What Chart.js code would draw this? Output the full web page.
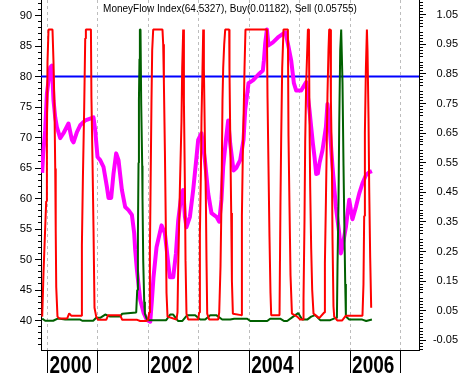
<!DOCTYPE html>
<html>
<head>
<meta charset="utf-8">
<script src="https://cdn.jsdelivr.net/npm/chart.js@4.4.0/dist/chart.umd.min.js"></script>
<style>
  body { margin: 0; background: #fff; }
  canvas { display: block; }
</style>
</head>
<body>
<canvas id="mfiChart" width="460" height="373"></canvas>
<script>
// Money flow index with buy / sell signal lines (2000 - 2006)

// x axis range (decimal years) and tick values
const xMin = 1999.871;
const xMax = 2007.367;
const yearTicks = [2000, 2001, 2002, 2003, 2004, 2005, 2006, 2007];
const yearLabels = [2000, 2002, 2004, 2006];

// left axis (MFI) and right axis (signals)
const leftTicks = [40, 45, 50, 55, 60, 65, 70, 75, 80, 85, 90];
const rightTicks = [-0.05, 0, 0.05, 0.1, 0.15, 0.2, 0.25, 0.3, 0.35, 0.4, 0.45, 0.5,
    0.55, 0.6, 0.65, 0.7, 0.75, 0.8, 0.85, 0.9, 0.95, 1, 1.05];
const mfiLevel = 80;

// last values shown in the header
const mfiLast = '64.5327';
const buyLast = '0.01182';
const sellLast = '0.05755';

// Money flow index
const mfiDates = [1999.895, 1999.915, 1999.954, 1999.988, 2000.054, 2000.087, 2000.119, 2000.153, 2000.186, 2000.252,
    2000.317, 2000.416, 2000.484, 2000.516, 2000.583, 2000.648, 2000.748, 2000.847, 2000.912, 2000.946,
    2000.992, 2001.045, 2001.110, 2001.178, 2001.210, 2001.263, 2001.309, 2001.362, 2001.408, 2001.475,
    2001.541, 2001.606, 2001.674, 2001.719, 2001.739, 2001.773, 2001.838, 2001.904, 2001.971, 2002.037,
    2002.071, 2002.102, 2002.162, 2002.261, 2002.328, 2002.394, 2002.427, 2002.493, 2002.547, 2002.592,
    2002.657, 2002.691, 2002.725, 2002.756, 2002.824, 2002.889, 2002.955, 2002.988, 2003.054, 2003.121,
    2003.187, 2003.252, 2003.351, 2003.405, 2003.450, 2003.484, 2003.538, 2003.583, 2003.623, 2003.689,
    2003.742, 2003.821, 2003.887, 2003.920, 2003.986, 2004.079, 2004.204, 2004.271, 2004.291, 2004.317,
    2004.351, 2004.382, 2004.470, 2004.569, 2004.668, 2004.720, 2004.767, 2004.833, 2004.886, 2004.932,
    2005.031, 2005.130, 2005.195, 2005.229, 2005.263, 2005.295, 2005.328, 2005.362, 2005.394, 2005.453,
    2005.521, 2005.552, 2005.586, 2005.652, 2005.719, 2005.785, 2005.818, 2005.850, 2005.917, 2005.983,
    2006.048, 2006.116, 2006.181, 2006.246, 2006.314, 2006.379, 2006.433];
const mfiValues = [64.2, 67.4, 71.2, 77.2, 81.5, 81.8, 76.1, 73.3, 71.7, 69.9,
    70.7, 72.3, 69.6, 69.2, 70.9, 72.0, 72.8, 73.1, 73.3, 71.2,
    66.8, 66.3, 65.2, 61.9, 60.1, 60.1, 64.1, 67.4, 66.3, 61.4,
    58.6, 58.1, 57.3, 54.3, 51.6, 48.3, 43.4, 41.3, 40.1, 39.8,
    43.4, 47.1, 52.0, 55.6, 54.3, 49.4, 47.1, 47.1, 51.0, 56.4,
    60.8, 61.4, 57.0, 55.3, 57.0, 61.4, 66.8, 69.6, 70.7, 66.3,
    60.8, 57.6, 57.0, 56.2, 59.8, 65.2, 69.6, 72.8, 69.0, 64.6,
    65.0, 66.3, 69.6, 74.5, 78.9, 79.4, 80.5, 81.0, 82.6, 85.4,
    87.7, 85.1, 85.6, 86.4, 87.0, 87.2, 85.4, 82.6, 78.9, 77.7,
    77.7, 79.1, 74.5, 71.7, 69.0, 66.8, 64.0, 64.1, 65.8, 67.9,
    71.7, 75.5, 72.8, 65.2, 58.6, 54.3, 51.0, 52.1, 55.3, 59.8,
    56.6, 58.6, 60.8, 62.5, 63.8, 64.3, 64.5];

// Sell signal
const sellDates = [1999.895, 1999.909, 1999.921, 1999.974, 1999.988, 2000.000, 2000.020, 2000.099, 2000.119, 2000.139,
    2000.153, 2000.163, 2000.173, 2000.198, 2000.232, 2000.391, 2000.430, 2000.470, 2000.668, 2000.682,
    2000.702, 2000.728, 2000.748, 2000.761, 2000.861, 2000.871, 2000.892, 2000.912, 2000.932, 2000.966,
    2001.005, 2001.164, 2001.204, 2001.442, 2001.481, 2001.779, 2001.838, 2001.957, 2001.997, 2002.017,
    2002.031, 2002.043, 2002.062, 2002.076, 2002.096, 2002.280, 2002.294, 2002.308, 2002.328, 2002.348,
    2002.360, 2002.380, 2002.558, 2002.578, 2002.592, 2002.626, 2002.657, 2002.671, 2002.691, 2002.705,
    2002.725, 2002.737, 2002.756, 2002.790, 2002.988, 2003.008, 2003.022, 2003.042, 2003.054, 2003.074,
    2003.088, 2003.101, 2003.121, 2003.141, 2003.153, 2003.167, 2003.207, 2003.385, 2003.405, 2003.431,
    2003.450, 2003.470, 2003.484, 2003.504, 2003.524, 2003.603, 2003.609, 2003.623, 2003.643, 2003.657,
    2003.676, 2003.841, 2003.855, 2003.875, 2003.895, 2003.907, 2003.926, 2004.351, 2004.363, 2004.382,
    2004.402, 2004.422, 2004.436, 2004.601, 2004.620, 2004.634, 2004.654, 2004.680, 2004.767, 2004.779,
    2004.799, 2004.819, 2004.847, 2004.952, 2005.011, 2005.071, 2005.077, 2005.096, 2005.110, 2005.130,
    2005.164, 2005.184, 2005.195, 2005.209, 2005.229, 2005.249, 2005.275, 2005.388, 2005.487, 2005.501,
    2005.521, 2005.541, 2005.552, 2005.572, 2005.586, 2005.606, 2005.620, 2005.640, 2005.652, 2005.671,
    2005.685, 2005.745, 2005.844, 2005.917, 2005.983, 2006.246, 2006.266, 2006.280, 2006.294, 2006.314,
    2006.334, 2006.346, 2006.366, 2006.379, 2006.399, 2006.419];
const sellValues = [0.03, 0.03, 0.18, 0.42, 0.63, 0.89, 1.0, 1.0, 0.89, 0.73,
    0.53, 0.32, 0.13, 0.03, 0.024, 0.024, 0.041, 0.033, 0.033, 0.27,
    0.50, 0.74, 0.97, 1.0, 1.0, 0.77, 0.56, 0.33, 0.06, 0.03,
    0.019, 0.019, 0.035, 0.035, 0.019, 0.019, 0.015, 0.015, 0.02, 0.044,
    0.256, 0.45, 0.76, 0.93, 1.0, 1.0, 0.95, 0.82, 0.59, 0.31,
    0.11, 0.03, 0.02, 0.044, 0.20, 0.47, 0.69, 0.87, 1.0, 0.76,
    0.47, 0.22, 0.04, 0.02, 0.02, 0.044, 0.31, 0.52, 0.70, 0.87,
    1.0, 0.87, 0.63, 0.42, 0.22, 0.04, 0.02, 0.02, 0.044, 0.20,
    0.42, 0.76, 0.87, 0.95, 1.0, 1.0, 0.86, 0.65, 0.38, 0.15,
    0.04, 0.035, 0.37, 0.60, 0.76, 0.87, 1.0, 1.0, 0.77, 0.54,
    0.30, 0.11, 0.035, 0.035, 0.42, 0.63, 0.87, 1.0, 1.0, 0.64,
    0.40, 0.17, 0.04, 0.03, 0.02, 0.02, 0.09, 0.35, 0.62, 0.82,
    1.0, 1.0, 0.70, 0.47, 0.26, 0.12, 0.04, 0.025, 0.044, 0.21,
    0.42, 0.65, 0.78, 0.93, 1.0, 1.0, 0.76, 0.54, 0.29, 0.065,
    0.03, 0.017, 0.017, 0.033, 0.033, 0.033, 0.14, 0.37, 0.65, 0.87,
    1.0, 0.93, 0.70, 0.47, 0.23, 0.06];

// Buy signal
const buyDates = [1999.895, 1999.954, 2000.113, 2000.212, 2000.351, 2000.648, 2000.688, 2000.906, 2000.966, 2001.045,
    2001.144, 2001.243, 2001.442, 2001.481, 2001.759, 2001.779, 2001.793, 2001.805, 2001.813, 2001.824,
    2001.832, 2001.844, 2001.858, 2001.878, 2001.884, 2001.898, 2001.918, 2001.931, 2001.977, 2002.354,
    2002.433, 2002.493, 2002.592, 2002.671, 2002.770, 2002.929, 2003.028, 2003.127, 2003.227, 2003.346,
    2003.464, 2003.623, 2003.702, 2003.960, 2004.020, 2004.357, 2004.416, 2004.614, 2004.694, 2004.753,
    2004.872, 2004.971, 2005.051, 2005.150, 2005.229, 2005.309, 2005.408, 2005.606, 2005.705, 2005.739,
    2005.751, 2005.771, 2005.785, 2005.805, 2005.824, 2005.838, 2005.850, 2005.870, 2005.884, 2005.904,
    2005.917, 2005.983, 2006.241, 2006.320, 2006.433];
const buyValues = [0.023, 0.016, 0.016, 0.024, 0.02, 0.02, 0.016, 0.016, 0.026, 0.026,
    0.037, 0.03, 0.03, 0.04, 0.044, 0.12, 0.31, 0.55, 0.76, 0.90,
    1.0, 1.0, 0.75, 0.54, 0.43, 0.22, 0.08, 0.04, 0.018, 0.018,
    0.037, 0.037, 0.015, 0.015, 0.035, 0.035, 0.02, 0.02, 0.035, 0.035,
    0.02, 0.02, 0.023, 0.023, 0.015, 0.015, 0.023, 0.023, 0.015, 0.015,
    0.03, 0.042, 0.02, 0.02, 0.03, 0.035, 0.018, 0.018, 0.025, 0.025,
    0.20, 0.42, 0.68, 0.93, 1.0, 1.0, 0.82, 0.54, 0.37, 0.14,
    0.03, 0.02, 0.02, 0.015, 0.02];

const FONT = '"Liberation Sans", Arial, sans-serif';
Chart.defaults.font.family = FONT;
Chart.defaults.font.size = 11;
Chart.defaults.color = '#000';

function toPoints(xs, ys) {
    return xs.map((x, i) => ({ x: x, y: ys[i] }));
}

// minor ticks, header text and year labels
const decorPlugin = {
    id: 'decor',
    afterDraw(chart) {
        const ctx = chart.ctx;
        const area = chart.chartArea;
        const xs = chart.scales.x;
        const yl = chart.scales.y;
        const yr = chart.scales.y1;

        ctx.save();
        ctx.strokeStyle = '#000';
        ctx.lineWidth = 1;
        ctx.beginPath();
        for (let v = Math.ceil(yl.min); v <= yl.max; v++) {
            if (v % 5 === 0) continue;
            const py = Math.round(yl.getPixelForValue(v) - 0.5) + 0.5;
            ctx.moveTo(area.left - 3, py);
            ctx.lineTo(area.left, py);
        }
        for (let i = Math.ceil(yr.min * 100); i <= yr.max * 100; i++) {
            if (i % 5 === 0) continue;
            const py = Math.round(yr.getPixelForValue(i / 100) - 0.5) + 0.5;
            ctx.moveTo(area.right + 1, py);
            ctx.lineTo(area.right + 4, py);
        }
        ctx.stroke();

        // header
        ctx.fillStyle = '#000';
        ctx.font = '10px ' + FONT;
        ctx.textAlign = 'center';
        ctx.textBaseline = 'middle';
        const header = 'MoneyFlow Index(' + mfiLast + '), Buy(' + buyLast + '), Sell (' + sellLast + ')';
        ctx.fillText(header, (area.left + area.right) / 2, 9);

        // year labels under the axis
        ctx.font = 'bold 19px ' + FONT;
        ctx.textAlign = 'left';
        ctx.textBaseline = 'alphabetic';
        yearLabels.forEach(year => {
            const px = xs.getPixelForValue(year);
            ctx.save();
            ctx.translate(px + 2, chart.height - 0.5);
            ctx.scale(1, 1.27);
            ctx.fillText(String(year), 0, 0);
            ctx.restore();
        });
        ctx.restore();
    }
};

const ctx = document.getElementById('mfiChart').getContext('2d');
new Chart(ctx, {
    type: 'line',
    data: {
        datasets: [{
            label: 'Sell',
            data: toPoints(sellDates, sellValues),
            yAxisID: 'y1',
            borderColor: '#ff0000',
            borderWidth: 2,
            borderJoinStyle: 'bevel'
        }, {
            label: 'Buy',
            data: toPoints(buyDates, buyValues),
            yAxisID: 'y1',
            borderColor: '#006000',
            borderWidth: 2,
            borderJoinStyle: 'bevel'
        }, {
            label: 'MoneyFlow Index',
            data: toPoints(mfiDates, mfiValues),
            yAxisID: 'y',
            borderColor: '#ff00ff',
            borderWidth: 4,
            borderJoinStyle: 'round'
        }, {
            label: 'Level',
            data: [{ x: xMin, y: mfiLevel }, { x: xMax, y: mfiLevel }],
            yAxisID: 'y',
            borderColor: '#0000ff',
            borderWidth: 2
        }]
    },
    options: {
        responsive: false,
        animation: false,
        devicePixelRatio: 1,
        layout: { padding: { left: 0, right: 2, top: 0, bottom: 0 } },
        elements: {
            point: { radius: 0 },
            line: { tension: 0, fill: false }
        },
        plugins: {
            legend: { display: false },
            tooltip: { enabled: false }
        },
        scales: {
            x: {
                type: 'linear',
                position: 'bottom',
                min: xMin,
                max: xMax,
                afterBuildTicks: s => { s.ticks = yearTicks.map(v => ({ value: v })); },
                afterFit: s => { s.height = 23; s.paddingLeft = 0; s.paddingRight = 0; },
                ticks: { display: false },
                grid: {
                    color: '#bdbdbd',
                    tickColor: '#000',
                    tickLength: 23,
                    tickBorderDash: []
                },
                border: { color: '#000', width: 1, dash: [3, 3] }
            },
            y: {
                type: 'linear',
                position: 'left',
                min: 35.164,
                max: 92.541,
                afterBuildTicks: s => { s.ticks = leftTicks.map(v => ({ value: v })); },
                afterFit: s => { s.width = 41; s.paddingTop = 0; s.paddingBottom = 0; },
                ticks: { padding: 3, font: { size: 11 }, callback: v => String(v) },
                grid: { drawOnChartArea: false, color: '#000', tickLength: 6 },
                border: { color: '#000', width: 1 }
            },
            y1: {
                type: 'linear',
                position: 'right',
                min: -0.0828,
                max: 1.0997,
                afterBuildTicks: s => { s.ticks = rightTicks.map(v => ({ value: v })); },
                afterFit: s => { s.width = 39; s.paddingTop = 0; s.paddingBottom = 0; },
                ticks: { crossAlign: 'far', padding: 3, font: { size: 11 }, callback: v => v.toFixed(2) },
                grid: { drawOnChartArea: false, color: '#000', tickLength: 7 },
                border: { color: '#000', width: 1 }
            }
        }
    },
    plugins: [decorPlugin]
});
</script>
</body>
</html>
